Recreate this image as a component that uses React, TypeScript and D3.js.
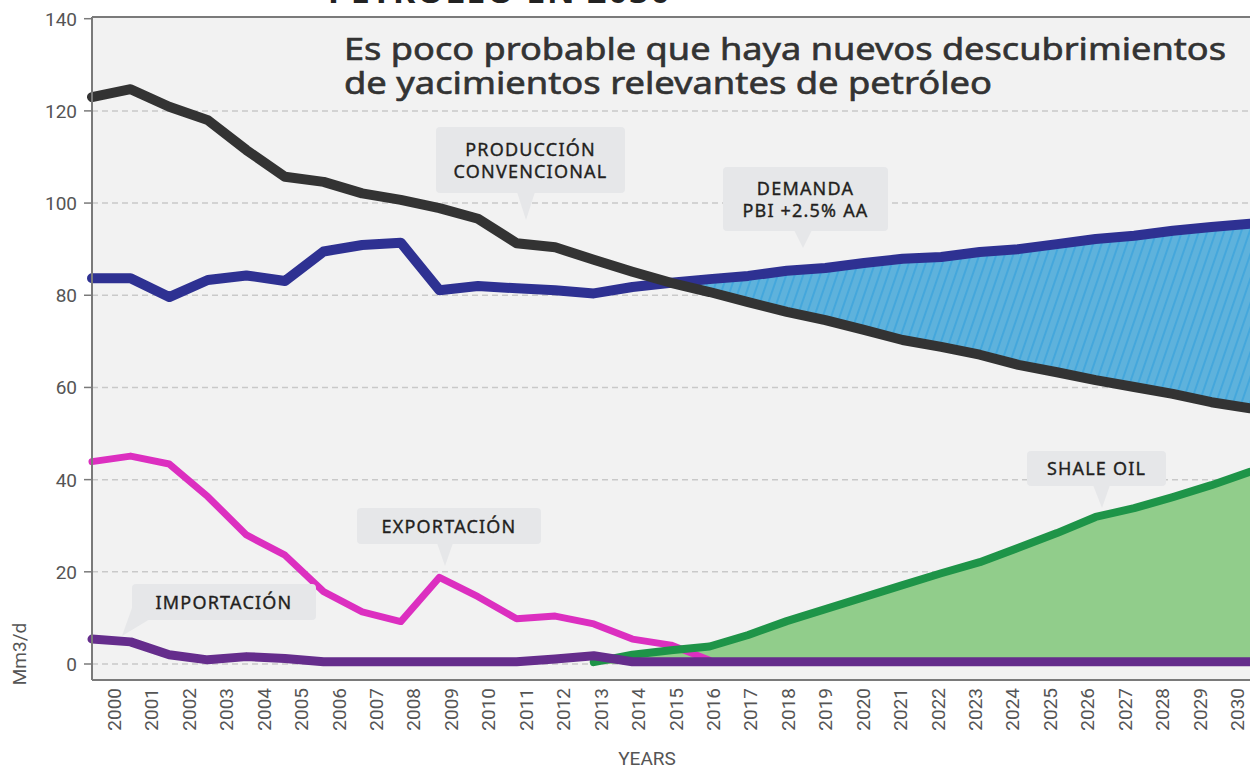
import React from "react";
import * as d3 from "d3";

// ---------- DATA ----------
const years: number[] = [
  2000, 2001, 2002, 2003, 2004, 2005, 2006, 2007, 2008, 2009, 2010,
  2011, 2012, 2013, 2014, 2015, 2016, 2017, 2018, 2019, 2020,
  2021, 2022, 2023, 2024, 2025, 2026, 2027, 2028, 2029, 2030,
];
const yTicks: number[] = [0, 20, 40, 60, 80, 100, 120, 140];

const produccion: number[] = [
  123.0, 124.7, 120.9, 118.0, 111.5, 105.7, 104.6, 102.1, 100.7, 98.9, 96.6,
  91.3, 90.4, 87.7, 85.1, 82.7, 80.7, 78.5, 76.4, 74.6, 72.5,
  70.3, 68.8, 67.1, 64.9, 63.3, 61.6, 60.1, 58.6, 56.8, 55.5,
];
const demanda: number[] = [
  83.7, 83.7, 79.6, 83.3, 84.3, 83.1, 89.5, 90.9, 91.4, 81.1, 82.0,
  81.5, 81.1, 80.4, 81.8, 82.7, 83.5, 84.2, 85.3, 85.9, 87.0,
  87.9, 88.3, 89.4, 90.0, 91.1, 92.2, 92.9, 94.0, 94.8, 95.5,
];
const exportacionYears: number[] = [
  2000, 2001, 2002, 2003, 2004, 2005, 2006, 2007, 2008, 2009, 2010,
  2011, 2012, 2013, 2014, 2015, 2016,
];
const exportacion: number[] = [
  43.9, 45.1, 43.4, 36.3, 28.0, 23.6, 15.7, 11.3, 9.2, 18.8, 14.6,
  9.8, 10.4, 8.7, 5.4, 4.1, 0.8,
];
const importacion: number[] = [
  5.4, 4.8, 2.0, 0.9, 1.6, 1.2, 0.5, 0.5, 0.5, 0.5, 0.5,
  0.5, 1.1, 1.8, 0.5, 0.5, 0.5, 0.5, 0.5, 0.5, 0.5,
  0.5, 0.5, 0.5, 0.5, 0.5, 0.5, 0.5, 0.5, 0.5, 0.5,
];
const shaleYears: number[] = [
  2013, 2014, 2015, 2016, 2017, 2018, 2019, 2020, 2021,
  2022, 2023, 2024, 2025, 2026, 2027, 2028, 2029, 2030,
];
const shale: number[] = [
  0.4, 2.0, 3.0, 3.8, 6.3, 9.3, 11.9, 14.5, 17.1,
  19.7, 22.1, 25.2, 28.4, 31.9, 33.8, 36.2, 38.8, 41.7,
];

const titleLines: string[] = [
  "Es poco probable que haya nuevos descubrimientos",
  "de yacimientos relevantes de petróleo",
];
const topCutTitle = "PETRÓLEO EN 2030";

// ---------- LAYOUT ----------
const W = 1250;
const H = 770;
const plot = { left: 92, right: 1250, top: 17, bottom: 680 };

const COLORS = {
  bg: "#f2f2f2",
  axis: "#7a7a7a",
  grid: "#c9c9c9",
  text: "#555555",
  produccion: "#333333",
  demanda: "#2e3192",
  exportacion: "#dc2fc0",
  importacion: "#652d8c",
  shaleLine: "#1e9448",
  shaleFill: "#91cd8b",
  hatchFill: "#5eb2dc",
  hatchLine: "#2f9fdc",
  callout: "#e6e7e9",
  calloutText: "#231f20",
};

type Callout = {
  lines: string[];
  box: [number, number, number, number]; // x0, y0, x1, y1
  pointer: [number, number][];
};
const callouts: Callout[] = [
  { lines: ["PRODUCCIÓN", "CONVENCIONAL"], box: [436, 127, 625, 193], pointer: [[517, 192], [535, 192], [526, 220]] },
  { lines: ["DEMANDA", "PBI +2.5% AA"], box: [723, 167, 888, 231], pointer: [[794, 230], [812, 230], [803, 248]] },
  { lines: ["SHALE OIL"], box: [1027, 451, 1166, 486], pointer: [[1093, 485], [1110, 485], [1102, 508]] },
  { lines: ["EXPORTACIÓN"], box: [357, 508, 541, 544], pointer: [[437, 543], [453, 543], [445, 566]] },
  { lines: ["IMPORTACIÓN"], box: [132, 584, 316, 620], pointer: [[133, 605], [150, 619], [122, 636]] },
];

export default function App() {
  const x = d3.scaleLinear().domain([2000, 2030]).range([plot.left, plot.right]);
  const xLabel = d3.scalePoint<number>().domain(years).range([114, 1237]);
  const y = d3.scaleLinear().domain([0, 140]).range([664, 18.7]);

  const line = d3
    .line<[number, number]>()
    .x((d) => x(d[0]))
    .y((d) => y(d[1]));

  const zip = (xs: number[], vs: number[]) => xs.map((yr, i) => [yr, vs[i]] as [number, number]);

  const prodPts = zip(years, produccion);
  const demPts = zip(years, demanda);
  const expPts = zip(exportacionYears, exportacion);
  const impPts = zip(years, importacion);
  const shalePts = zip(shaleYears, shale);

  const shaleArea = d3
    .area<[number, number]>()
    .x((d) => x(d[0]))
    .y0(() => y(0))
    .y1((d) => y(d[1]))(shalePts) as string;

  const gapIdx = years.map((_, i) => i).filter((i) => years[i] >= 2015);
  const gapArea = d3
    .area<number>()
    .x((i) => x(years[i]))
    .y0((i) => y(produccion[i]))
    .y1((i) => y(Math.max(produccion[i], demanda[i])))(gapIdx) as string;

  const gridVals = yTicks.filter((t) => t < 140);
  const numFont = "Roboto, 'DejaVu Sans', sans-serif";
  const sansFont = "'Noto Sans', 'Open Sans', sans-serif";

  return (
    <svg
      width={W}
      height={H}
      viewBox={`0 0 ${W} ${H}`}
      style={{ position: "absolute", left: 0, top: 0, background: "#ffffff" }}
    >
      <defs>
        <clipPath id="plotClip">
          <rect x={plot.left} y={plot.top} width={plot.right - plot.left} height={plot.bottom - plot.top} />
        </clipPath>
        <pattern id="hatch" patternUnits="userSpaceOnUse" width={8} height={8} patternTransform="rotate(19)">
          <rect width={8} height={8} fill={COLORS.hatchFill} />
          <line x1={1} y1={0} x2={1} y2={8} stroke={COLORS.hatchLine} strokeWidth={1.1} />
        </pattern>
      </defs>

      {/* cut-off top title */}
      <text
        x={328}
        y={3}
        fontFamily={sansFont}
        fontWeight={700}
        fontSize={34}
        fill="#222"
        textLength={342}
        lengthAdjust="spacing"
      >
        {topCutTitle}
      </text>

      {/* plot background */}
      <rect x={plot.left} y={plot.top} width={plot.right - plot.left} height={plot.bottom - plot.top} fill={COLORS.bg} />

      {/* gridlines */}
      {gridVals.map((t) => (
        <line
          key={t}
          x1={plot.left}
          x2={plot.right}
          y1={y(t)}
          y2={y(t)}
          stroke={COLORS.grid}
          strokeWidth={1.5}
          strokeDasharray="6 4"
        />
      ))}

      <g clipPath="url(#plotClip)">
        <path d={shaleArea} fill={COLORS.shaleFill} />
        <path d={gapArea} fill="url(#hatch)" />
      </g>

      {/* title */}
      <g fontFamily={sansFont} fontWeight={400} fontSize={30} fill="#333" stroke="#333" strokeWidth={0.6}>
        <text x={344} y={60} textLength={882} lengthAdjust="spacingAndGlyphs">
          {titleLines[0]}
        </text>
        <text x={344} y={94} textLength={648} lengthAdjust="spacingAndGlyphs">
          {titleLines[1]}
        </text>
      </g>

      {/* lines */}
      <g fill="none" strokeLinejoin="round" strokeLinecap="round">
        <path d={line(expPts) as string} stroke={COLORS.exportacion} strokeWidth={7} />
        <path d={line(shalePts) as string} stroke={COLORS.shaleLine} strokeWidth={8} />
        <path d={line(demPts) as string} stroke={COLORS.demanda} strokeWidth={10} />
        <path d={line(prodPts) as string} stroke={COLORS.produccion} strokeWidth={10} />
        <path d={line(impPts) as string} stroke={COLORS.importacion} strokeWidth={9} />
      </g>

      {/* callouts */}
      {callouts.map((c, i) => {
        const [x0, y0, x1, y1] = c.box;
        const cx = (x0 + x1) / 2;
        const n = c.lines.length;
        const lh = 22;
        const midY = (y0 + y1) / 2;
        return (
          <g key={i}>
            <rect x={x0} y={y0} width={x1 - x0} height={y1 - y0} rx={4} fill={COLORS.callout} />
            <polygon points={c.pointer.map((p) => p.join(",")).join(" ")} fill={COLORS.callout} />
            {c.lines.map((t, j) => (
              <text
                key={j}
                x={cx}
                y={midY + (j - (n - 1) / 2) * lh + 6.5}
                textAnchor="middle"
                fontFamily={sansFont}
                fontWeight={400}
                fontSize={18}
                letterSpacing={1.2}
                fill={COLORS.calloutText}
                stroke={COLORS.calloutText}
                strokeWidth={0.35}
              >
                {t}
              </text>
            ))}
          </g>
        );
      })}

      {/* axes frame */}
      <line x1={plot.left} x2={plot.right} y1={plot.top} y2={plot.top} stroke={COLORS.axis} strokeWidth={2} />
      <line x1={plot.left} x2={plot.right} y1={plot.bottom} y2={plot.bottom} stroke={COLORS.axis} strokeWidth={2} />
      <line x1={plot.left} x2={plot.left} y1={plot.top} y2={plot.bottom} stroke={COLORS.axis} strokeWidth={2} />

      {/* y ticks */}
      {yTicks.map((t) => (
        <g key={t}>
          <line x1={84} x2={plot.left} y1={y(t)} y2={y(t)} stroke={COLORS.axis} strokeWidth={1.5} />
          <text x={77} y={y(t) + 7} textAnchor="end" fontFamily={numFont} fontSize={19} fill={COLORS.text}>
            {t}
          </text>
        </g>
      ))}

      {/* x labels */}
      {years.map((yr) => (
        <text
          key={yr}
          transform={`translate(${(xLabel(yr) as number) + 7},688) rotate(-90)`}
          textAnchor="end"
          fontFamily={numFont}
          fontSize={19}
          fill={COLORS.text}
        >
          {yr}
        </text>
      ))}

      {/* axis titles */}
      <text x={647} y={765} textAnchor="middle" fontFamily={numFont} fontSize={19} fill={COLORS.text}>
        YEARS
      </text>
      <text
        transform={`translate(26,654) rotate(-90)`}
        textAnchor="middle"
        fontFamily={numFont}
        fontSize={19}
        fill={COLORS.text}
      >
        Mm3/d
      </text>
    </svg>
  );
}
